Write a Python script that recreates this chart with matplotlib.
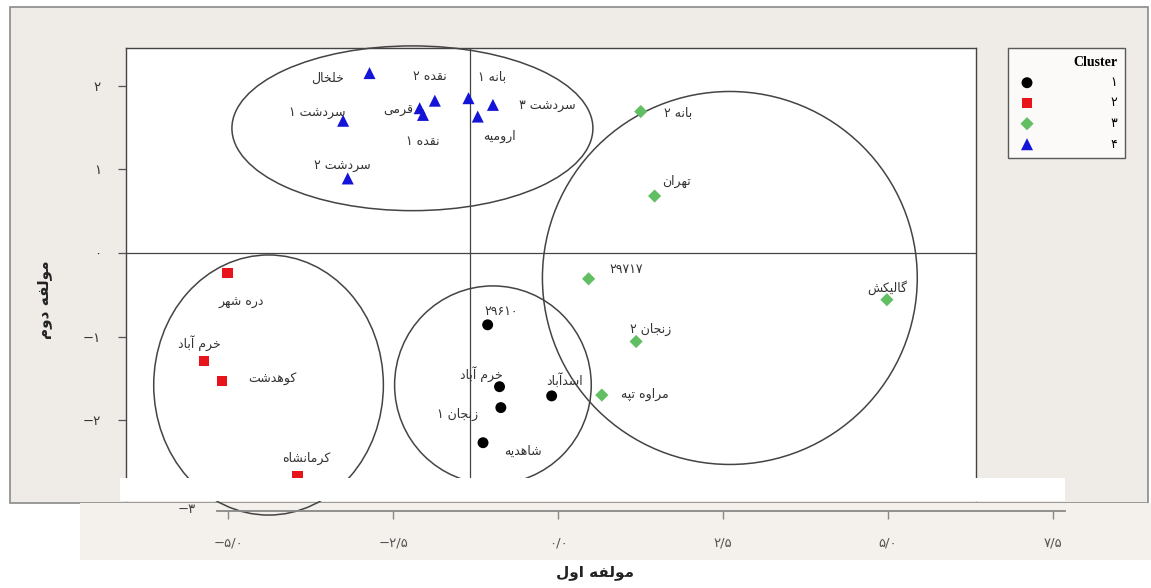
import matplotlib.pyplot as plt
from matplotlib.patches import Ellipse, Rectangle

# ---- data ----
c1_names = ["۲۹۶۱۰", "خرم آباد", "زنجان ۱", "شاهدیه", "اسدآباد"]
c1_x = [0.27, 0.45, 0.47, 0.20, 1.24]
c1_y = [-0.86, -1.60, -1.85, -2.27, -1.71]

c2_names = ["دره شهر", "خرم آباد", "کوهدشت", "کرمانشاه"]
c2_x = [-3.67, -4.03, -3.76, -2.61]
c2_y = [-0.24, -1.29, -1.53, -2.67]

c3_names = ["بانه ۲", "تهران", "۲۹۷۱۷", "زنجان ۲", "مراوه تپه", "گالیکش"]
c3_x = [2.59, 2.80, 1.80, 2.52, 2.00, 6.32]
c3_y = [1.69, 0.68, -0.31, -1.06, -1.70, -0.56]

c4_names = ["خلخال", "نقده ۲", "قرمی", "نقده ۱", "بانه ۱", "سردشت ۳",
            "ارومیه", "سردشت ۱", "سردشت ۲"]
c4_x = [-1.52, -0.53, -0.76, -0.71, -0.02, 0.35, 0.12, -1.92, -1.85]
c4_y = [2.15, 1.82, 1.73, 1.65, 1.85, 1.77, 1.63, 1.58, 0.89]

legend_labels = ["۱", "۲", "۳", "۴"]

# cluster circles (centre / width / height, data units)
ell_cx = [0.35, -3.05, 3.94, -0.87]
ell_cy = [-1.58, -1.58, -0.30, 1.49]
ell_w = [2.98, 3.48, 5.68, 5.47]
ell_h = [2.37, 3.11, 4.46, 1.97]

y_ticks = [2, 1, 0, -1, -2]
y_ticklabels = ["۲", "۱", "۰", "−۱", "−۲"]
x_ticks = [-5, -2.5, 0, 2.5, 5, 7.5]
x_ticklabels = ["−۵/۰", "−۲/۵", "۰/۰", "۲/۵", "۵/۰", "۷/۵"]

# label offsets in pixels (placement only)
c1_off = [(14, 13), (-18, 13), (-43, -7), (40, -9), (13, 16)]
c2_off = [(14, -30), (-4, 18), (51, 1), (9, 18)]
c3_off = [(37, -2), (22, 15), (38, 9), (14, 12), (43, 1), (0, 12)]
c4_off = [(-42, -5), (-5, 24), (-21, -2), (0, -27), (24, 21), (54, -1),
          (22, -20), (-26, 8), (-5, 13)]

# ---- minimal persian shaping (matplotlib has no RTL layout) ----
FORMS = {
    'ا': (0xFE8D, 0xFE8E, None, None), 'آ': (0xFE81, 0xFE82, None, None),
    'ب': (0xFE8F, 0xFE90, 0xFE91, 0xFE92), 'پ': (0xFB56, 0xFB57, 0xFB58, 0xFB59),
    'ت': (0xFE95, 0xFE96, 0xFE97, 0xFE98), 'ج': (0xFE9D, 0xFE9E, 0xFE9F, 0xFEA0),
    'خ': (0xFEA5, 0xFEA6, 0xFEA7, 0xFEA8), 'د': (0xFEA9, 0xFEAA, None, None),
    'ر': (0xFEAD, 0xFEAE, None, None), 'ز': (0xFEAF, 0xFEB0, None, None),
    'س': (0xFEB1, 0xFEB2, 0xFEB3, 0xFEB4), 'ش': (0xFEB5, 0xFEB6, 0xFEB7, 0xFEB8),
    'ف': (0xFED1, 0xFED2, 0xFED3, 0xFED4), 'ق': (0xFED5, 0xFED6, 0xFED7, 0xFED8),
    'ک': (0xFB8E, 0xFB8F, 0xFB90, 0xFB91), 'گ': (0xFB92, 0xFB93, 0xFB94, 0xFB95),
    'ل': (0xFEDD, 0xFEDE, 0xFEDF, 0xFEE0), 'م': (0xFEE1, 0xFEE2, 0xFEE3, 0xFEE4),
    'ن': (0xFEE5, 0xFEE6, 0xFEE7, 0xFEE8), 'ه': (0xFEE9, 0xFEEA, 0xFEEB, 0xFEEC),
    'و': (0xFEED, 0xFEEE, None, None), 'ی': (0xFBFC, 0xFBFD, 0xFBFE, 0xFBFF),
}


def fa(s):
    if not any(c in FORMS for c in s):
        return s
    out = []
    for i, c in enumerate(s):
        if c not in FORMS:
            out.append(c)
            continue
        iso, fin, ini, med = FORMS[c]
        prev = s[i - 1] if i > 0 else ''
        nxt = s[i + 1] if i + 1 < len(s) else ''
        jp = prev in FORMS and FORMS[prev][2] is not None
        jn = ini is not None and nxt in FORMS
        code = med if (jp and jn) else fin if jp else ini if jn else iso
        out.append(chr(code))
    return ''.join(reversed(out))


W, H = 1151, 588


def box(x0, y0, x1, y1):
    return [x0 / W, 1 - y1 / H, (x1 - x0) / W, (y1 - y0) / H]


plt.rcParams['font.family'] = ['DejaVu Sans']
fig = plt.figure(figsize=(W / 100, H / 100), dpi=100, facecolor='white')

# scanned page background
fig.add_artist(Rectangle((10 / W, 1 - 503 / H), 1138 / W, 496 / H, transform=fig.transFigure,
                         facecolor='#efebe6', edgecolor='#8a8a8a', lw=1.2, zorder=-5))
fig.add_artist(Rectangle((80 / W, 1 - 560 / H), 1071 / W, 57 / H, transform=fig.transFigure,
                         facecolor='#f4f0ec', edgecolor='none', zorder=-4))

ax = fig.add_axes(box(126, 48, 976, 500))
ax.set_facecolor('white')
ax.set_xlim(-5.21, 7.67)
ax.set_ylim(-2.955, 2.45)
for s in ['top', 'left', 'right']:
    ax.spines[s].set_color('#444')
    ax.spines[s].set_linewidth(1.0)
ax.spines['bottom'].set_visible(False)
ax.set_xticks([])
ax.set_yticks(y_ticks)
ax.set_yticklabels(y_ticklabels)
ax.tick_params(axis='y', length=6, width=0.9, color='#555', labelsize=9.5,
               labelcolor='#333', pad=12)

ax.axhline(0, color='#444', lw=0.9, zorder=1)
ax.axvline(0, color='#444', lw=0.9, zorder=1)

for cx, cy, w, h in zip(ell_cx, ell_cy, ell_w, ell_h):
    ax.add_patch(Ellipse((cx, cy), w, h, fill=False, edgecolor='#444', lw=1.1,
                         clip_on=False, zorder=2))

groups = [
    (c1_x, c1_y, c1_names, c1_off, 'o', 'black', 62),
    (c2_x, c2_y, c2_names, c2_off, 's', '#e8141c', 55),
    (c3_x, c3_y, c3_names, c3_off, 'D', '#62be62', 45),
    (c4_x, c4_y, c4_names, c4_off, '^', '#1414d8', 75),
]
handles = []
for xs, ys, names, offs, mk, col, sz in groups:
    h = ax.scatter(xs, ys, marker=mk, s=sz, color=col, edgecolors='none',
                   zorder=4, clip_on=False)
    handles.append(h)
    for x, y, n, (dx, dy) in zip(xs, ys, names, offs):
        ax.annotate(fa(n), (x, y), xytext=(dx, dy), textcoords='offset pixels',
                    ha='center', va='center', fontsize=9, color='#333', zorder=5)

# white overlay strip across the bottom of the frame
fig.add_artist(Rectangle((120 / W, 1 - 501 / H), 945 / W, 23 / H, transform=fig.transFigure,
                         facecolor='white', edgecolor='none', zorder=3))

# lower x axis
ax2 = fig.add_axes(box(217, 505, 1065, 511), zorder=4)
ax2.patch.set_alpha(0)
for s in ['top', 'left', 'right']:
    ax2.spines[s].set_visible(False)
ax2.spines['bottom'].set_color('#888')
ax2.spines['bottom'].set_linewidth(1.3)
ax2.set_xlim(-5.167, 7.682)
ax2.set_yticks([])
ax2.set_xticks(x_ticks)
ax2.set_xticklabels(x_ticklabels)
ax2.tick_params(axis='x', length=6, width=1.0, color='#888', labelsize=9.5,
                labelcolor='#555', pad=12)
ax2.text(-5.62, 0.2, "−۳", transform=ax2.get_xaxis_transform(), ha='center',
         va='center', fontsize=9.5, color='#444')

leg = fig.legend(handles, legend_labels, loc='upper right',
                 bbox_to_anchor=(1125 / W, 1 - 48 / H), title='Cluster',
                 alignment='right', frameon=True, fancybox=False, fontsize=9,
                 handletextpad=5.8, handlelength=1.8, borderpad=0.6,
                 labelspacing=0.6, borderaxespad=0, markerscale=1.0)
leg.get_frame().set_edgecolor('#333')
leg.get_frame().set_linewidth(1.0)
leg.get_title().set_fontfamily('Liberation Serif')
leg.get_title().set_fontweight('bold')
leg.get_title().set_fontsize(10)

fig.text(595 / W, 1 - 572 / H, fa("مولفه اول"), ha='center', va='center',
         fontsize=11, fontweight='bold', color='#222')
fig.text(45 / W, 1 - 300 / H, fa("مولفه دوم"), ha='center', va='center',
         rotation=90, fontsize=11, fontweight='bold', color='#222')

fig.savefig('out.png', dpi=100, facecolor='white')
